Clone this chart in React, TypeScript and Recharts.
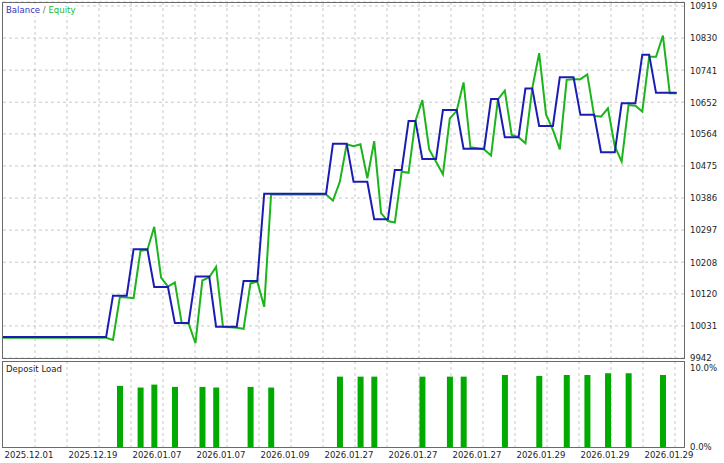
import React from 'react';
import { LineChart, ComposedChart, Line, Bar, XAxis, YAxis, CartesianGrid } from 'recharts';

// ---- data ----
const balance = [
  10000, 10000, 10000, 10000, 10000, 10000, 10000, 10000, 10000, 10000, 10000, 10000, 10000, 10000, 10000, 10000,
  10115, 10115, 10115,
  10244, 10244, 10244,
  10139, 10139, 10139,
  10039, 10039, 10039,
  10168, 10168, 10168,
  10029, 10029, 10029, 10029,
  10156, 10156, 10156,
  10398, 10398, 10398, 10398, 10398, 10398, 10398, 10398, 10398, 10398,
  10537, 10537, 10537,
  10431, 10431, 10431,
  10327, 10327, 10327,
  10464, 10464,
  10600, 10600,
  10494, 10494, 10494,
  10630, 10630, 10630,
  10523, 10523, 10523, 10523,
  10661, 10661,
  10555, 10555, 10555,
  10690, 10690,
  10586, 10586, 10586,
  10721, 10721, 10721,
  10617, 10617, 10617,
  10513, 10513, 10513,
  10649, 10649, 10649,
  10784, 10784,
  10678, 10678, 10678, 10678,
];

const equity = [
  9998, 9998, 9998, 9998, 9998, 9998, 9998, 9998, 9998, 9998, 9998, 9998, 9998, 9998, 9998, 9998,
  9992, 10111, 10110, 10108, 10240, 10242, 10306, 10165, 10140, 10152,
  10039, 10038, 9983, 10157, 10166, 10195, 10029, 10027, 10026, 10023,
  10149, 10154, 10084,
  10396, 10396, 10396, 10396, 10396, 10396, 10396, 10396, 10396,
  10379, 10431, 10535, 10530, 10535, 10441, 10544, 10344, 10322, 10318,
  10459, 10456, 10600, 10658, 10521, 10487, 10452, 10607, 10628, 10707,
  10527, 10524, 10521, 10504, 10660, 10684, 10561, 10555, 10538, 10691,
  10788, 10618, 10575, 10521, 10714, 10716, 10716, 10729, 10614, 10612,
  10635, 10530, 10487, 10644, 10642, 10626, 10778, 10778, 10837, 10677,
  10677,
];

const loadIndex = [17, 20, 22, 25, 29, 31, 36, 39, 49, 52, 54, 61, 65, 67, 73, 78, 82, 85, 88, 91, 96];
const loadPct = [7.69, 7.48, 7.85, 7.56, 7.56, 7.48, 7.56, 7.48, 8.85, 8.85, 8.85, 8.85, 8.85, 8.85, 9.06, 8.94, 9.06, 9.06, 9.28, 9.28, 9.06];

const priceTicks = [9942, 10031, 10120, 10208, 10297, 10386, 10475, 10564, 10652, 10741, 10830, 10919];
const loadTicks = [0, 10];
const dateLabels = [
  '2025.12.01', '2025.12.19', '2026.01.07', '2026.01.07', '2026.01.09', '2026.01.27',
  '2026.01.27', '2026.01.27', '2026.01.29', '2026.01.29', '2026.01.29',
];

// ---- chart tables / layout helpers ----
const lineData = balance.map((b, i) => ({ i, balance: b, equity: equity[i] }));
const barData = loadIndex.map((i, k) => ({ i, load: loadPct[k] }));

const X_MAX = 99.07; // index domain spanning the plot width
const LABEL_FIRST = 3.78; // where the first date label sits, in index units
const LABEL_STEP = 9.31; // label spacing, in index units
const dateTicks = dateLabels.map((_, k) => LABEL_FIRST + LABEL_STEP * k);

const FONT = "'DejaVu Sans Condensed', 'Liberation Sans', sans-serif";
const TEXT = '#1e1e1e';
const BLUE = '#1c1cb4';
const GREEN = '#1cb41c';
const BAR = '#00aa00';
const GRID = '#c8c8c8';
const FRAME = '#6a6a6a';

const vGrid = ({ offset }: any) => {
  const out: number[] = [];
  for (let x = offset.left + 32; x < offset.left + offset.width; x += 32) out.push(x);
  return out;
};

export default function App() {
  return (
    <div style={{ position: 'absolute', left: 0, top: 0, width: 724, height: 463, background: '#fff', overflow: 'hidden', fontFamily: FONT }}>
      <div style={{ position: 'absolute', left: 0, top: 0 }}>
        <LineChart width={724} height={362} data={lineData} margin={{ top: 2, right: 0, bottom: 4, left: 3 }}>
          <CartesianGrid stroke={GRID} strokeDasharray="3 3" verticalCoordinatesGenerator={vGrid} />
          <XAxis dataKey="i" type="number" domain={[0, X_MAX]} allowDataOverflow hide />
          <YAxis
            orientation="right"
            width={40}
            domain={[9942, 10930.1]}
            allowDataOverflow
            ticks={priceTicks}
            interval={0}
            axisLine={false}
            tickLine={false}
            tickSize={0}
            tickMargin={6}
            tick={{ fontSize: 9.5, fill: TEXT, fontFamily: FONT }}
          />
          <Line type="linear" dataKey="equity" stroke={GREEN} strokeWidth={2} dot={false} isAnimationActive={false} />
          <Line type="linear" dataKey="balance" stroke={BLUE} strokeWidth={2} dot={false} isAnimationActive={false} />
        </LineChart>
      </div>
      <div style={{ position: 'absolute', left: 2, top: 2, width: 683, height: 357, border: `1px solid ${FRAME}`, boxSizing: 'border-box', pointerEvents: 'none' }} />
      <div style={{ position: 'absolute', left: 4, top: 4, padding: '0 2px', background: '#fff', fontSize: 9.5, lineHeight: '12px', whiteSpace: 'nowrap' }}>
        <span style={{ color: '#3535b8' }}>Balance</span>
        <span style={{ color: '#707070' }}> / </span>
        <span style={{ color: '#2cb82c' }}>Equity</span>
      </div>

      <div style={{ position: 'absolute', left: 0, top: 361, width: 724, height: 102, background: '#fff' }}>
        <ComposedChart width={724} height={102} data={barData} margin={{ top: 0, right: 0, bottom: 0, left: 3 }}>
          <CartesianGrid stroke={GRID} strokeDasharray="3 3" horizontal={false} verticalCoordinatesGenerator={vGrid} />
          <XAxis
            dataKey="i"
            type="number"
            domain={[0, X_MAX]}
            allowDataOverflow
            ticks={dateTicks}
            interval={0}
            height={16}
            axisLine={false}
            tickLine={false}
            tickSize={0}
            tickMargin={4}
            tickFormatter={(_v: number, k: number) => dateLabels[k]}
            tick={{ fontSize: 9.5, fill: TEXT, fontFamily: FONT }}
          />
          <YAxis
            orientation="right"
            width={40}
            domain={[0, 10.818]}
            allowDataOverflow
            ticks={loadTicks}
            interval={0}
            axisLine={false}
            tickLine={false}
            tickSize={0}
            tickMargin={6}
            tickFormatter={(v: number) => v.toFixed(1) + '%'}
            tick={{ fontSize: 9.5, fill: TEXT, fontFamily: FONT }}
          />
          <Bar dataKey="load" fill={BAR} barSize={6} isAnimationActive={false} />
        </ComposedChart>
        <div style={{ position: 'absolute', left: 2, top: 0, width: 683, height: 87, border: `1px solid ${FRAME}`, boxSizing: 'border-box', pointerEvents: 'none' }} />
        <div style={{ position: 'absolute', left: 4, top: 2, padding: '0 2px', background: '#fff', fontSize: 9.5, lineHeight: '12px', color: TEXT, whiteSpace: 'nowrap' }}>
          Deposit Load
        </div>
      </div>
    </div>
  );
}
